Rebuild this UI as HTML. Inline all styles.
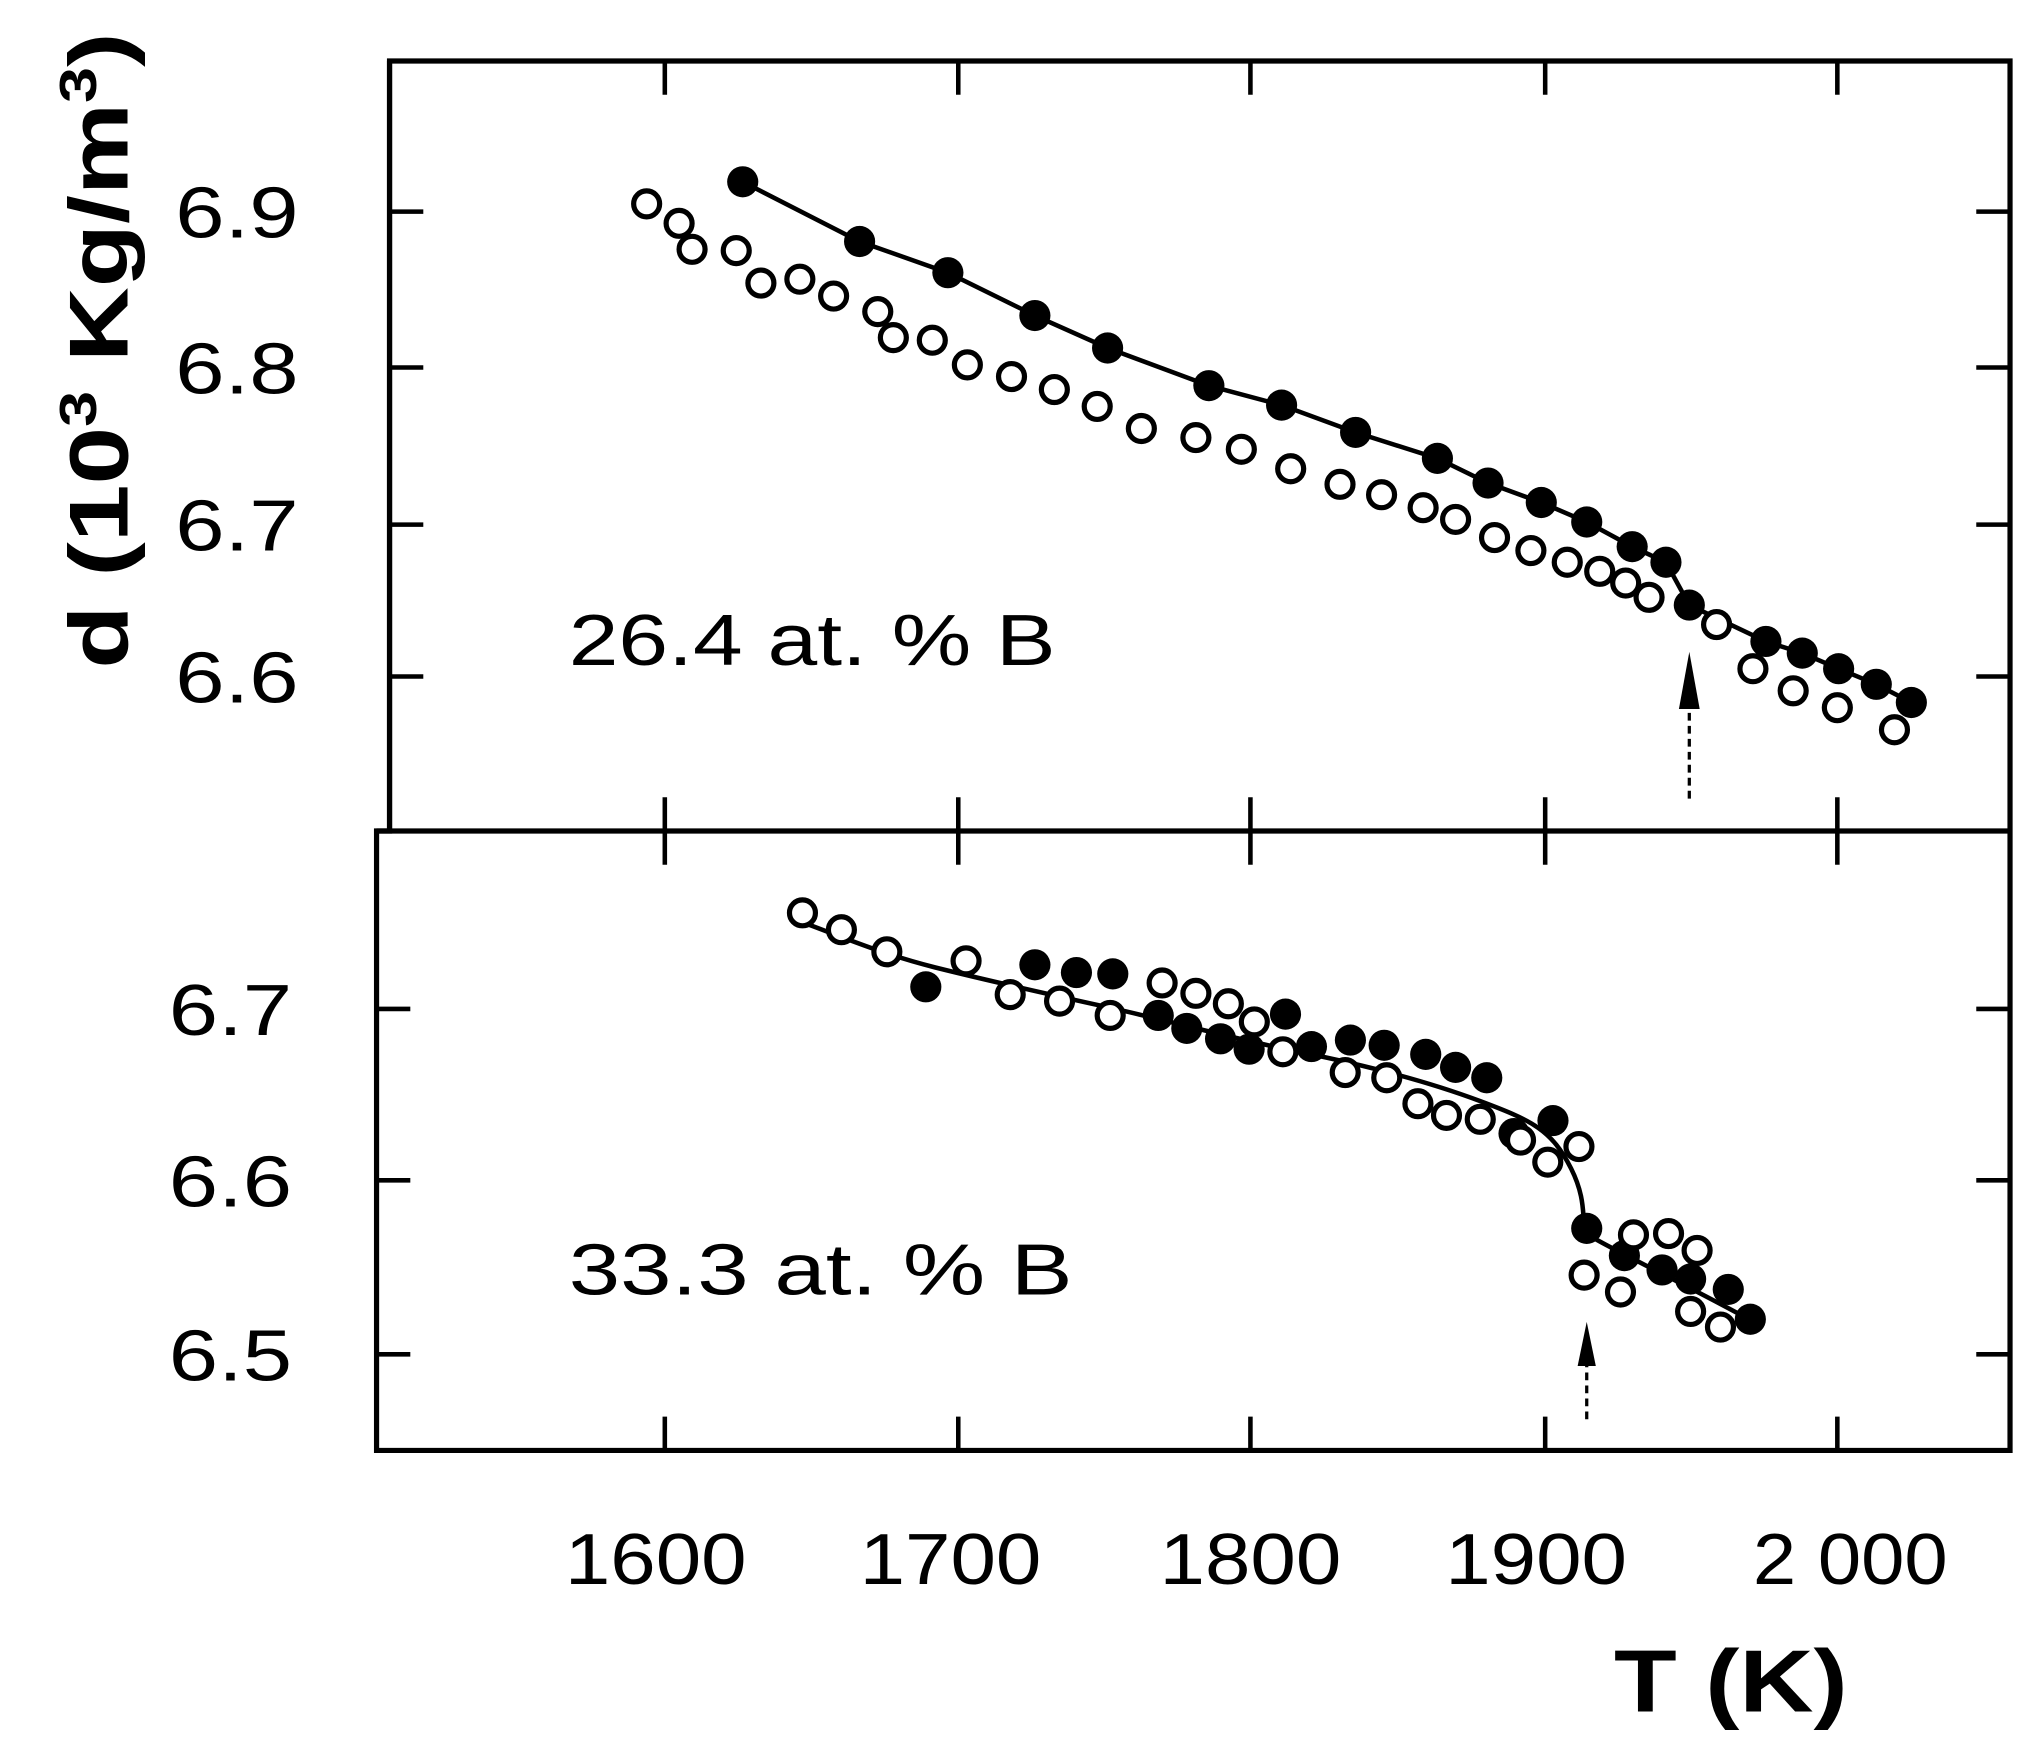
<!DOCTYPE html>
<html><head><meta charset="utf-8"><style>html,body{margin:0;padding:0;background:#fff}svg{display:block}</style></head>
<body>
<svg width="2036" height="1764" viewBox="0 0 1568 1358.5" preserveAspectRatio="none" xmlns="http://www.w3.org/2000/svg" font-family="Liberation Sans, sans-serif">
<rect width="1568" height="1360" fill="#fff"/>
<g stroke="#000" stroke-width="4" fill="none">
<path d="M300 47 H1548 V1117 H290 V640 H300 Z"/>
<path d="M290 640 H1548"/>
<path d="M300 47 V640"/>
</g>
<g stroke="#000" stroke-width="3.5">
<!-- top panel y ticks left/right -->
<path d="M300 163h26M300 283h26M300 404h26M300 521h26"/>
<path d="M1548 163h-26M1548 283h-26M1548 404h-26M1548 521h-26"/>
<path d="M290 777h26M290 909h26M290 1043h26"/>
<path d="M1548 777h-26M1548 909h-26M1548 1043h-26"/>
<!-- x ticks -->
<path d="M512 47v26M738 47v26M963 47v26M1190 47v26M1415 47v26"/>
<path d="M512 640v-26M738 640v-26M963 640v-26M1190 640v-26M1415 640v-26"/>
<path d="M512 640v26M738 640v26M963 640v26M1190 640v26M1415 640v26"/>
<path d="M512 1117v-26M738 1117v-26M963 1117v-26M1190 1117v-26M1415 1117v-26"/>
</g>
<g font-size="56" fill="#000" text-anchor="end">
<text x="230" y="183" textLength="95" lengthAdjust="spacingAndGlyphs">6.9</text>
<text x="230" y="303" textLength="95" lengthAdjust="spacingAndGlyphs">6.8</text>
<text x="230" y="424" textLength="95" lengthAdjust="spacingAndGlyphs">6.7</text>
<text x="230" y="541" textLength="95" lengthAdjust="spacingAndGlyphs">6.6</text>
<text x="225" y="797" textLength="95" lengthAdjust="spacingAndGlyphs">6.7</text>
<text x="225" y="929" textLength="95" lengthAdjust="spacingAndGlyphs">6.6</text>
<text x="225" y="1063" textLength="95" lengthAdjust="spacingAndGlyphs">6.5</text>
</g>
<g font-size="56" fill="#000" text-anchor="middle">
<text x="505" y="1220" textLength="140" lengthAdjust="spacingAndGlyphs">1600</text>
<text x="732" y="1220" textLength="140" lengthAdjust="spacingAndGlyphs">1700</text>
<text x="963" y="1220" textLength="140" lengthAdjust="spacingAndGlyphs">1800</text>
<text x="1183" y="1220" textLength="140" lengthAdjust="spacingAndGlyphs">1900</text>
<text x="1425" y="1220" textLength="150" lengthAdjust="spacingAndGlyphs">2 000</text>
</g>
<text x="438" y="512" font-size="56" textLength="375" lengthAdjust="spacingAndGlyphs">26.4 at. % B</text>
<text x="438" y="997" font-size="56" textLength="388" lengthAdjust="spacingAndGlyphs">33.3 at. % B</text>
<text x="1243" y="1318" font-size="68" font-weight="bold" textLength="180" lengthAdjust="spacingAndGlyphs">T (K)</text>
<text transform="translate(98,515) rotate(-90)" font-size="64" font-weight="bold" textLength="490" lengthAdjust="spacingAndGlyphs">d (10<tspan font-size="40" dy="-24">3</tspan><tspan dy="24"> Kg/m</tspan><tspan font-size="40" dy="-24">3</tspan><tspan dy="24">)</tspan></text>
<!-- lines -->
<g fill="none" stroke="#000" stroke-width="3.5">
<path d="M572 140 L662 186 L730 210 L797 243 L853 268 L931 297 L987 312 L1044 333 L1107 353 L1146 372 L1187 387 L1222 402 L1257 421 L1283 433 L1301 466 L1360 494 L1388 503 L1416 515 L1445 527 L1472 541"/>
<path d="M612 708 C650 722 680 735 720 745 S800 764 850 775 S950 800 1000 810 S1100 833 1140 848 S1195 870 1210 900 S1215 945 1225 952 S1290 985 1345 1015"/>
</g>
<g fill="#000">
<circle cx="572" cy="140" r="12"/><circle cx="662" cy="186" r="12"/><circle cx="730" cy="210" r="12"/><circle cx="797" cy="243" r="12"/><circle cx="853" cy="268" r="12"/><circle cx="931" cy="297" r="12"/><circle cx="987" cy="312" r="12"/><circle cx="1044" cy="333" r="12"/><circle cx="1107" cy="353" r="12"/><circle cx="1146" cy="372" r="12"/><circle cx="1187" cy="387" r="12"/><circle cx="1222" cy="402" r="12"/><circle cx="1257" cy="421" r="12"/><circle cx="1283" cy="433" r="12"/><circle cx="1301" cy="466" r="12"/><circle cx="1360" cy="494" r="12"/><circle cx="1388" cy="503" r="12"/><circle cx="1416" cy="515" r="12"/><circle cx="1445" cy="527" r="12"/><circle cx="1472" cy="541" r="12"/>
<circle cx="713" cy="760" r="12"/><circle cx="797" cy="743" r="12"/><circle cx="829" cy="749" r="12"/><circle cx="857" cy="750" r="12"/><circle cx="892" cy="782" r="12"/><circle cx="914" cy="792" r="12"/><circle cx="940" cy="800" r="12"/><circle cx="962" cy="808" r="12"/><circle cx="990" cy="781" r="12"/><circle cx="1010" cy="806" r="12"/><circle cx="1040" cy="801" r="12"/><circle cx="1066" cy="805" r="12"/><circle cx="1098" cy="812" r="12"/><circle cx="1121" cy="822" r="12"/><circle cx="1145" cy="830" r="12"/><circle cx="1166" cy="873" r="12"/><circle cx="1196" cy="863" r="12"/><circle cx="1222" cy="946" r="12"/><circle cx="1251" cy="967" r="12"/><circle cx="1280" cy="978" r="12"/><circle cx="1302" cy="985" r="12"/><circle cx="1331" cy="993" r="12"/><circle cx="1348" cy="1016" r="12"/>
</g>
<g fill="#fff" stroke="#000" stroke-width="4">
<circle cx="498" cy="157" r="10"/><circle cx="523" cy="172" r="10"/><circle cx="533" cy="192" r="10"/><circle cx="567" cy="193" r="10"/><circle cx="586" cy="218" r="10"/><circle cx="616" cy="215" r="10"/><circle cx="642" cy="228" r="10"/><circle cx="676" cy="240" r="10"/><circle cx="688" cy="260" r="10"/><circle cx="718" cy="262" r="10"/><circle cx="745" cy="281" r="10"/><circle cx="779" cy="290" r="10"/><circle cx="812" cy="300" r="10"/><circle cx="845" cy="313" r="10"/><circle cx="879" cy="330" r="10"/><circle cx="921" cy="337" r="10"/><circle cx="956" cy="346" r="10"/><circle cx="994" cy="361" r="10"/><circle cx="1032" cy="373" r="10"/><circle cx="1064" cy="381" r="10"/><circle cx="1096" cy="391" r="10"/><circle cx="1121" cy="400" r="10"/><circle cx="1151" cy="414" r="10"/><circle cx="1179" cy="424" r="10"/><circle cx="1207" cy="433" r="10"/><circle cx="1232" cy="440" r="10"/><circle cx="1252" cy="449" r="10"/><circle cx="1270" cy="460" r="10"/><circle cx="1322" cy="481" r="10"/><circle cx="1350" cy="515" r="10"/><circle cx="1381" cy="532" r="10"/><circle cx="1415" cy="545" r="10"/><circle cx="1459" cy="562" r="10"/>
<circle cx="618" cy="703" r="10"/><circle cx="648" cy="716" r="10"/><circle cx="683" cy="733" r="10"/><circle cx="744" cy="740" r="10"/><circle cx="778" cy="766" r="10"/><circle cx="816" cy="771" r="10"/><circle cx="855" cy="782" r="10"/><circle cx="895" cy="757" r="10"/><circle cx="921" cy="765" r="10"/><circle cx="946" cy="773" r="10"/><circle cx="966" cy="787" r="10"/><circle cx="988" cy="810" r="10"/><circle cx="1036" cy="826" r="10"/><circle cx="1068" cy="830" r="10"/><circle cx="1092" cy="850" r="10"/><circle cx="1114" cy="859" r="10"/><circle cx="1140" cy="862" r="10"/><circle cx="1171" cy="878" r="10"/><circle cx="1192" cy="895" r="10"/><circle cx="1216" cy="883" r="10"/><circle cx="1220" cy="982" r="10"/><circle cx="1248" cy="995" r="10"/><circle cx="1258" cy="951" r="10"/><circle cx="1285" cy="950" r="10"/><circle cx="1307" cy="963" r="10"/><circle cx="1302" cy="1010" r="10"/><circle cx="1325" cy="1022" r="10"/>
</g>
<!-- arrows -->
<g stroke="#000" stroke-width="2.5" stroke-dasharray="6 4">
<path d="M1301 615 V545"/>
<path d="M1222 1093 V1050"/>
</g>
<g fill="#000">
<path d="M1301 502 L1293 546 L1309 546 Z"/>
<path d="M1222 1018 L1215 1052 L1229 1052 Z"/>
</g>
</svg>
</body></html>
